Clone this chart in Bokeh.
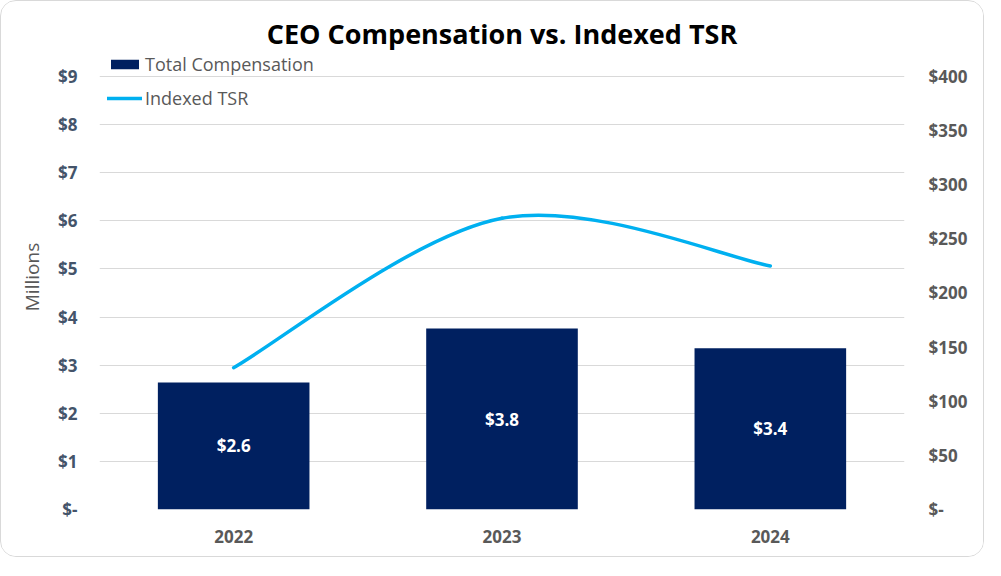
from bokeh.plotting import figure
from bokeh.models import (Range1d, LinearAxis, FixedTicker, CustomJSTickFormatter,
                          Legend, LegendItem, ColumnDataSource, LabelSet)
from bokeh.core.properties import value
from bokeh.embed import file_html
from bokeh.resources import INLINE

years = ["2022", "2023", "2024"]
compensation = [2.64, 3.76, 3.35]
comp_labels = ["$2.6", "$3.8", "$3.4"]
tsr = [131, 269, 225]
left_ticks = [0, 1, 2, 3, 4, 5, 6, 7, 8, 9]
right_ticks = [0, 50, 100, 150, 200, 250, 300, 350, 400]

NAVY = "#002060"
BLUE = "#00B0F0"
GRID = "#d9d9d9"
GRAY = "#595959"
SLATE = "#44546A"
FONT = "Open Sans"

y_top = 9.665
p = figure(x_range=years, y_range=Range1d(0, y_top), width=984, height=557,
           output_backend="svg", toolbar_location=None,
           min_border_left=98, min_border_right=81, min_border_top=43, min_border_bottom=49)
p.x_range.range_padding = 0
p.styles = {"border": "1px solid #d9d9d9", "border-radius": "16px", "overflow": "hidden"}
p.outline_line_color = None
p.background_fill_color = "white"
p.border_fill_color = "white"

p.title.text = "CEO Compensation vs. Indexed TSR"
p.title.align = "center"
p.title.text_font = FONT
p.title.text_font_size = "27px"
p.title.text_font_style = "bold"
p.title.text_color = "black"
p.title.standoff = -14

p.extra_y_ranges = {"tsr": Range1d(0, 400 * y_top / 9)}

src = ColumnDataSource(dict(year=years, comp=compensation, half=[c / 2 for c in compensation],
                            lab=comp_labels))
bars = p.vbar(x="year", top="comp", width=0.565, source=src, fill_color=NAVY, line_color=None)

labels = LabelSet(x="year", y="half", text="lab", source=src, text_color="white",
                  text_font=value(FONT), text_font_size="17px", text_font_style="bold",
                  text_align="center", text_baseline="middle")
p.add_layout(labels)

# smoothed TSR line (Catmull-Rom style Bezier segments through the data points)
xs = [i + 0.5 for i in range(len(years))]
pts = list(zip(xs, tsr))
x0, y0, x1, y1, cx0, cy0, cx1, cy1 = [], [], [], [], [], [], [], []
n = len(pts)
for i in range(n - 1):
    pm = pts[max(i - 1, 0)]
    pa = pts[i]
    pb = pts[i + 1]
    pn = pts[min(i + 2, n - 1)]
    x0.append(pa[0]); y0.append(pa[1]); x1.append(pb[0]); y1.append(pb[1])
    cx0.append(pa[0] + (pb[0] - pm[0]) / 6); cy0.append(pa[1] + (pb[1] - pm[1]) / 6)
    cx1.append(pb[0] - (pn[0] - pa[0]) / 6); cy1.append(pb[1] - (pn[1] - pa[1]) / 6)
line = p.bezier(x0=x0, y0=y0, x1=x1, y1=y1, cx0=cx0, cy0=cy0, cx1=cx1, cy1=cy1,
                line_color=BLUE, line_width=3.5, line_cap="round", y_range_name="tsr")

fmt_js = "return tick == 0 ? '$-' : '$' + tick;"

# left axis
ax = p.yaxis[0]
ax.ticker = FixedTicker(ticks=left_ticks)
ax.formatter = CustomJSTickFormatter(code=fmt_js)
ax.axis_line_color = None
ax.major_tick_line_color = None
ax.minor_tick_line_color = None
ax.major_label_text_font = FONT
ax.major_label_text_font_style = "bold"
ax.major_label_text_font_size = "17px"
ax.major_label_text_color = SLATE
ax.major_label_standoff = 16
ax.axis_label = "Millions"
ax.axis_label_text_font = FONT
ax.axis_label_text_font_style = "normal"
ax.axis_label_text_font_size = "19px"
ax.axis_label_text_color = GRAY
ax.axis_label_standoff = 10

# right axis
rax = LinearAxis(y_range_name="tsr", ticker=FixedTicker(ticks=right_ticks),
                 formatter=CustomJSTickFormatter(code=fmt_js))
rax.axis_line_color = None
rax.major_tick_line_color = None
rax.minor_tick_line_color = None
rax.major_label_text_font = FONT
rax.major_label_text_font_style = "bold"
rax.major_label_text_font_size = "17px"
rax.major_label_text_color = GRAY
rax.major_label_standoff = 18
p.add_layout(rax, "right")

# x axis
xa = p.xaxis[0]
xa.axis_line_color = None
xa.major_tick_line_color = None
xa.minor_tick_line_color = None
xa.major_label_text_font = FONT
xa.major_label_text_font_style = "bold"
xa.major_label_text_font_size = "17px"
xa.major_label_text_color = GRAY
xa.major_label_standoff = 14

p.xgrid.grid_line_color = None
p.ygrid.grid_line_color = GRID
p.ygrid.grid_line_width = 1
p.ygrid.ticker = FixedTicker(ticks=left_ticks)

legend = Legend(items=[LegendItem(label="Total Compensation", renderers=[bars]),
                       LegendItem(label="Indexed TSR", renderers=[line])],
                location="top_left", orientation="vertical",
                margin=8, padding=0, spacing=10,
                glyph_width=35, glyph_height=12, label_height=20,
                label_standoff=3,
                label_text_font=FONT, label_text_font_size="18px", label_text_color=GRAY,
                background_fill_alpha=0, border_line_alpha=0)
p.add_layout(legend)

open("out.html", "w").write(file_html(p, INLINE))
